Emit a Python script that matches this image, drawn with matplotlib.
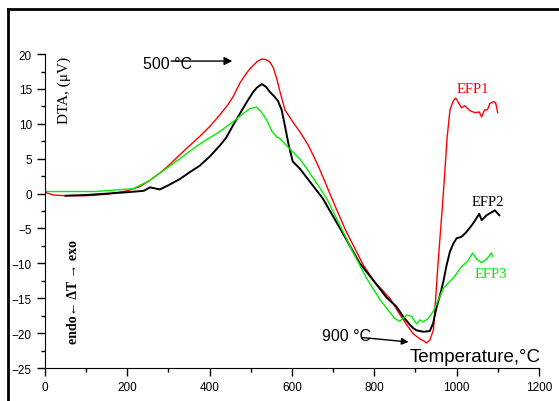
import matplotlib.pyplot as plt
from matplotlib.lines import Line2D
import numpy as np

# EFP1 (red)
efp1_t = [0, 20, 50, 100, 150, 200, 230, 255, 280, 300, 328, 350, 376, 400, 425, 445,
          457, 474, 490, 498, 508, 515, 527, 537, 546, 555, 563, 571, 583, 602, 620,
          639, 655, 668, 683, 697, 730, 773, 800, 838, 862, 880, 895, 910, 920, 927,
          935, 944, 955, 967, 977, 984, 992, 998, 1005, 1012, 1020, 1032, 1045, 1055,
          1061, 1068, 1075, 1081, 1090, 1095, 1100]
efp1_v = [0.2, -0.2, -0.3, -0.3, -0.1, 0.4, 1.0, 1.9, 3.0, 4.0, 5.6, 6.8, 8.2, 9.6, 11.3,
          12.8, 13.9, 15.9, 17.3, 17.9, 18.5, 18.9, 19.3, 19.2, 18.9, 18.0, 16.5, 14.6,
          12.0, 10.3, 8.8, 7.0, 5.1, 3.4, 1.3, -0.7, -5.2, -10.2, -12.6, -15.0, -17.3,
          -18.9, -20.1, -20.8, -21.1, -21.4, -21.0, -19.5, -10.0, -0.7, 8.0, 12.0,
          13.3, 13.7, 13.0, 12.3, 12.6, 11.9, 11.6, 11.7, 11.0, 12.0, 12.0, 12.9, 13.2,
          13.0, 11.6]

# EFP2 (black)
efp2_t = [50, 100, 150, 200, 240, 255, 279, 300, 328, 350, 376, 400, 425, 440, 457, 475,
          490, 505, 515, 527, 537, 546, 556, 566, 575, 583, 592, 602, 619, 645, 675, 720,
          765, 800, 830, 854, 870, 885, 895, 903, 920, 935, 943, 951, 960, 968, 976, 984,
          992, 1000, 1012, 1024, 1040, 1055, 1061, 1073, 1093, 1104]
efp2_v = [-0.3, -0.2, 0.0, 0.2, 0.4, 0.9, 0.6, 1.2, 2.1, 3.0, 4.0, 5.3, 6.9, 8.0, 9.8, 11.6,
          13.1, 14.5, 15.2, 15.7, 15.3, 14.6, 14.0, 13.3, 12.0, 9.7, 7.0, 4.6, 3.6, 1.6,
          -0.7, -5.3, -10.0, -12.6, -14.9, -16.2, -17.6, -18.7, -19.3, -19.6, -19.8,
          -19.7, -18.6, -16.4, -14.5, -12.6, -10.2, -8.3, -7.2, -6.4, -6.2, -5.5, -4.3,
          -2.9, -3.8, -3.1, -2.4, -3.1]

# EFP3 (green)
efp3_t = [0, 50, 122, 214, 255, 290, 328, 350, 376, 400, 425, 457, 480, 498, 514, 527,
          539, 551, 563, 571, 585, 602, 620, 636, 652, 668, 686, 717, 745, 780, 814, 835,
          850, 862, 879, 891, 903, 911, 919, 931, 943, 955, 968, 980, 992, 1012, 1028,
          1039, 1049, 1061, 1073, 1085, 1087]
efp3_v = [0.3, 0.3, 0.3, 0.7, 1.9, 3.4, 5.0, 6.0, 7.1, 8.0, 8.9, 10.3, 11.4, 12.2, 12.4,
          11.6, 10.5, 9.0, 8.1, 7.9, 7.0, 6.0, 4.9, 3.6, 2.2, 0.8, -0.9, -4.6, -8.0,
          -12.0, -15.2, -16.8, -17.9, -18.3, -17.4, -17.6, -18.7, -18.1, -18.4, -17.9,
          -16.9, -15.3, -13.6, -12.8, -12.1, -10.5, -9.6, -8.5, -9.4, -9.9, -9.4, -8.5,
          -9.0]

fig = plt.figure(figsize=(5.59, 4.02), dpi=100)
ax = fig.add_axes([0.0805, 0.082, 0.8835, 0.781])

ax.plot(efp1_t, efp1_v, color='#ff0000', lw=1.0)
ax.plot(efp2_t, efp2_v, color='black', lw=1.4)
ax.plot(efp3_t, efp3_v, color='#00ee00', lw=1.0)

ax.set_xlim(0, 1200)
ax.set_ylim(-25, 20)
ax.set_xticks(np.arange(0, 1201, 200))
ax.set_xticks(np.arange(100, 1200, 200), minor=True)
ax.set_yticks(np.arange(-25, 21, 5))
ax.set_yticks(np.arange(-22.5, 20, 5), minor=True)
ax.spines['top'].set_visible(False)
ax.spines['right'].set_visible(False)
ax.tick_params(which='major', direction='out', length=6, width=1, labelsize=8.5)
ax.tick_params(which='minor', direction='out', length=3, width=1)
for lab in ax.get_xticklabels() + ax.get_yticklabels():
    lab.set_family('Liberation Sans')

sans = 'Liberation Sans'
serif = 'Liberation Serif'
ax.annotate('', xy=(462, 19.0), xytext=(300, 19.0),
            arrowprops=dict(arrowstyle='-|>', color='black', lw=1.0, mutation_scale=12))
ax.text(238, 18.7, '500 °C', fontsize=11.5, family=sans, va='center', ha='left')
ax.annotate('', xy=(890, -21.3), xytext=(765, -20.6),
            arrowprops=dict(arrowstyle='-|>', color='black', lw=1.0, mutation_scale=10))
ax.text(673, -20.4, '900 °C', fontsize=11.5, family=sans, va='center', ha='left')
ax.text(887, -23.3, 'Temperature,°C', fontsize=13.5, family=sans, va='center', ha='left')

ax.text(1000, 15.0, 'EFP1', color='#ff0000', fontsize=10.5, family=serif, va='center')
ax.text(1037, -1.1, 'EFP2', color='black', fontsize=10.5, family=serif, va='center')
ax.text(1044, -11.4, 'EFP3', color='#00ee00', fontsize=10.5, family=serif, va='center')

ax.text(46, 15.0, 'DTA, (μV)', rotation=90, fontsize=11, family=serif,
        va='center', ha='center')
ax.text(70, -13.9, 'endo← ΔT → exo', rotation=90, fontsize=10, family=serif,
        weight='bold', va='center', ha='center')

# outer frame (only top and left edges visible in the original crop)
fig.add_artist(Line2D([8 / 559, 1.0], [1 - 10 / 402, 1 - 10 / 402],
                      transform=fig.transFigure, color='black', lw=2))
fig.add_artist(Line2D([8 / 559, 8 / 559], [0.0, 1 - 10 / 402],
                      transform=fig.transFigure, color='black', lw=2))

fig.savefig('out.png', dpi=100)
